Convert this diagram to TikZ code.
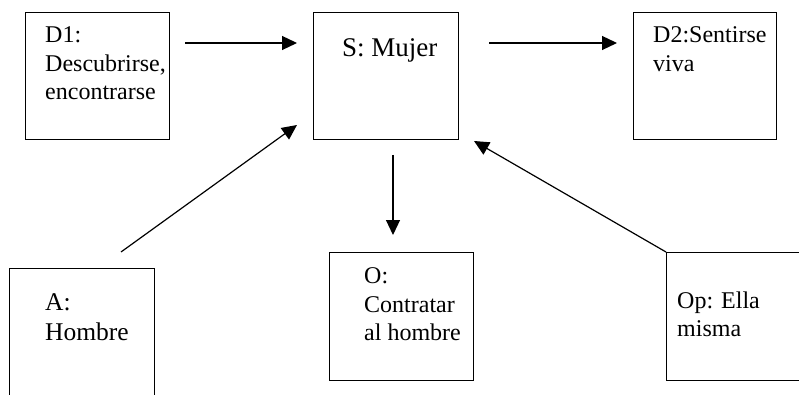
\documentclass[tikz,border=0pt]{standalone}
\usepackage{fontspec}
\setmainfont{Liberation Serif}
\usetikzlibrary{arrows.meta}
\begin{document}
\begin{tikzpicture}[x=1pt,y=-1pt,
  box/.style={draw,line width=1.3pt,inner sep=0pt,anchor=north west},
  lbl/.style={anchor=base west,inner sep=0pt,font=\fontsize{24}{28}\selectfont},
  arr/.style={line width=1.2pt,-{Triangle[length=15pt,width=14pt]}}]
\useasboundingbox (0,0) rectangle (799,395);
% boxes
\node[box,minimum width=144pt,minimum height=127pt] (d1) at (25,12) {};
\node[box,minimum width=145pt,minimum height=127pt] (s) at (313,12) {};
\node[box,minimum width=143pt,minimum height=127pt] (d2) at (633,12) {};
\node[box,minimum width=145pt,minimum height=145pt] (a) at (9,268) {};
\node[box,minimum width=144pt,minimum height=128pt] (o) at (329,252) {};
\node[box,minimum width=150pt,minimum height=128pt] (op) at (666,252) {};
% texts
\node[lbl] (d1t1) at (45,43) {D1:};
\node[lbl] (d1t2) at (45,72) {Descubrirse,};
\node[lbl] (d1t3) at (45,100) {encontrarse};
\node[lbl,font=\fontsize{27}{32}\selectfont] (st) at (342,57) {S: Mujer};
\node[lbl] (d2t1) at (653,43) {D2:Sentirse};
\node[lbl] (d2t2) at (653,72) {viva};
\node[lbl,font=\fontsize{25.5}{30}\selectfont] (at1) at (45,310) {A:};
\node[lbl,font=\fontsize{25.5}{30}\selectfont] (at2) at (45,340) {Hombre};
\node[lbl] (ot1) at (364,283) {O:};
\node[lbl] (ot2) at (364,312) {Contratar};
\node[lbl] (ot3) at (364,340) {al hombre};
\node[lbl] (opt1) at (677,308) {Op: Ella};
\node[lbl] (opt2) at (677,336) {misma};
% connector ends
\coordinate (d1out) at (185,43);
\coordinate (sinl) at (297,43);
\coordinate (sout) at (489,43);
\coordinate (d2in) at (617,43);
\coordinate (aout) at (121,252);
\coordinate (sinbl) at (297,125);
\coordinate (sdown) at (393,155);
\coordinate (oin) at (393,235);
\coordinate (sinbr) at (474,141);
% connectors
\draw[arr] (d1out) -- (sinl);
\draw[arr] (sout) -- (d2in);
\draw[arr] (aout) -- (sinbl);
\draw[arr] (sdown) -- (oin);
\draw[arr] (op.north west) -- (sinbr);
\end{tikzpicture}
\end{document}
